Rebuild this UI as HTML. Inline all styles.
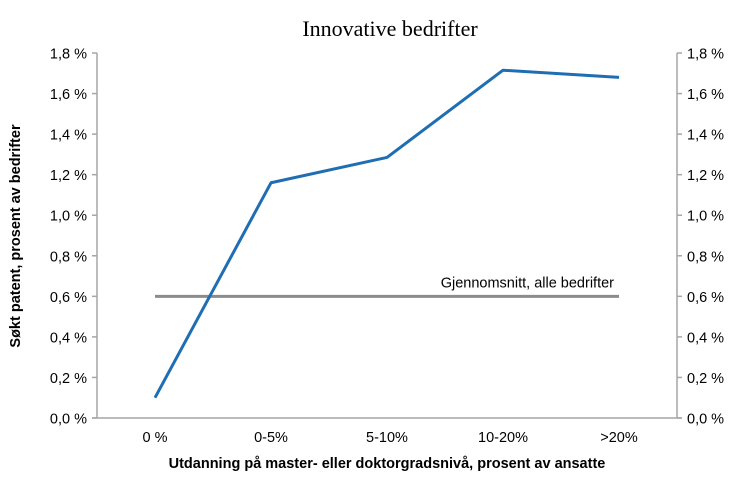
<!DOCTYPE html>
<html><head><meta charset="utf-8"><style>
body{margin:0;background:#fff;}
svg{display:block;font-family:"Liberation Sans",sans-serif;}
</style></head><body>
<svg id="chart" width="730" height="484">
<text x="390" y="36" text-anchor="middle" font-family="Liberation Serif,serif" font-size="22" fill="#000">Innovative bedrifter</text>
<text transform="translate(20,236) rotate(-90)" text-anchor="middle" font-size="14.5" font-weight="bold">Søkt patent, prosent av bedrifter</text>
<text x="387" y="468" text-anchor="middle" font-size="14.5" font-weight="bold">Utdanning på master- eller doktorgradsnivå, prosent av ansatte</text>
<g id="g"></g>
</svg>
<script>
const categories=["0 %","0-5%","5-10%","10-20%",">20%"];
const patentValues=[0.1,1.16,1.285,1.715,1.68];
const averageValue=[0.6];
const yTicks=[0,0.2,0.4,0.6,0.8,1.0,1.2,1.4,1.6,1.8];
const yTickLabels=["0,0 %","0,2 %","0,4 %","0,6 %","0,8 %","1,0 %","1,2 %","1,4 %","1,6 %","1,8 %"];
const L=97,R=677,T=53,B=418;
const x=i=>L+(R-L)/categories.length*(i+0.5);
const y=v=>B-(v/1.8)*(B-T);
const g=document.getElementById('g');
const NS="http://www.w3.org/2000/svg";
function mk(t,a){const e=document.createElementNS(NS,t);for(const k in a)e.setAttribute(k,a[k]);g.appendChild(e);return e;}
let e;
e=mk('line',{x1:L,y1:T,x2:L,y2:B,stroke:'#a6a6a6','stroke-width':1.5});


e=mk('line',{x1:R,y1:T,x2:R,y2:B,stroke:'#a6a6a6','stroke-width':1.5});


e=mk('line',{x1:L-5,y1:B,x2:R+5,y2:B,stroke:'#a6a6a6','stroke-width':1.5});


yTicks.forEach((v,i)=>{
 e=mk('line',{x1:L-5,y1:y(v),x2:L,y2:y(v),stroke:'#a6a6a6','stroke-width':1.5});
 
 
 e=mk('line',{x1:R,y1:y(v),x2:R+5,y2:y(v),stroke:'#a6a6a6','stroke-width':1.5});
 
 
 e=mk('text',{x:L-10,y:y(v)+5.5,'text-anchor':'end','font-size':14.5});e.textContent=yTickLabels[i];
 
 
 e=mk('text',{x:R+10,y:y(v)+5.5,'text-anchor':'start','font-size':14.5});e.textContent=yTickLabels[i];
 
 
});
categories.forEach((c,i)=>{
 e=mk('text',{x:x(i),y:442,'text-anchor':'middle','font-size':14.5});e.textContent=c;
 
 
});
e=mk('line',{x1:x(0),y1:y(averageValue[0]),x2:x(categories.length-1),y2:y(averageValue[0]),stroke:'#8c8c8c','stroke-width':3});


e=mk('text',{x:614,y:y(averageValue[0])-9,'text-anchor':'end','font-size':14.5});e.textContent='Gjennomsnitt, alle bedrifter';


e=mk('polyline',{points:patentValues.map((v,i)=>x(i)+','+y(v)).join(' '),fill:'none',stroke:'#1f6eb3','stroke-width':3,'stroke-linejoin':'round'});


</script>
</body></html>
